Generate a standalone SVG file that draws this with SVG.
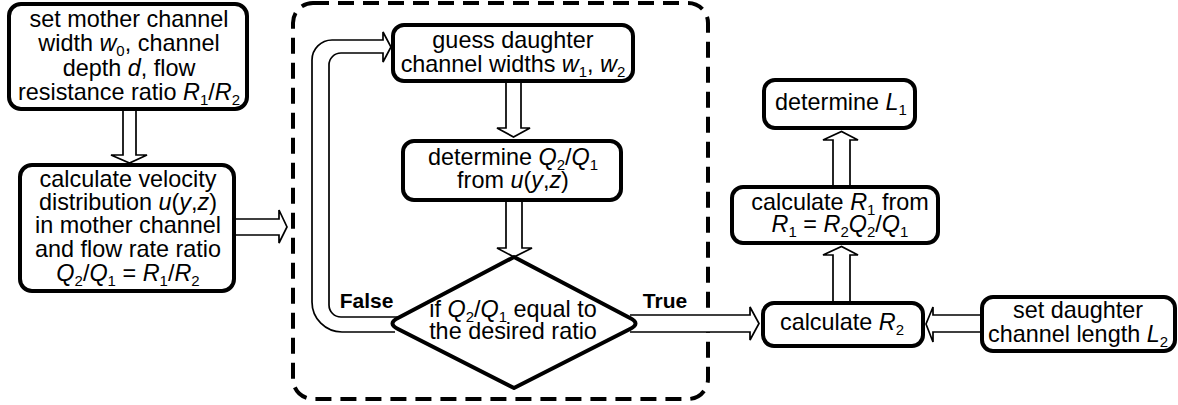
<svg xmlns="http://www.w3.org/2000/svg" width="1178" height="405" viewBox="0 0 1178 405">
<style>
.box{fill:#fff;stroke:#000;stroke-width:4}
.arr{fill:#fff;stroke:#000;stroke-width:1.7;stroke-linejoin:miter}
.t{font-family:"Liberation Sans",Arial,sans-serif;font-size:23.4px;text-anchor:middle;fill:#000}
.lb{font-family:"Liberation Sans",Arial,sans-serif;font-size:21px;font-weight:bold;text-anchor:middle;fill:#000}
.i{font-style:italic}
.s{font-size:15px;baseline-shift:-5px}
</style>
<rect id="loop-frame" x="293" y="3" width="415" height="396" rx="20" fill="none" stroke="#000" stroke-width="4" stroke-dasharray="16 9"/>
<g id="connectors">
<path class="arr" d="M123,111 V155 H111 L129.5,163 L147,155 H136 V111"/>
<path class="arr" d="M235,219 H279 V210 L287,227 L279,243 V235 H235"/>
<path class="arr" d="M506,83 V128 H497 L513.5,137 L530,128 H521 V83"/>
<path class="arr" d="M506,202 V248 H497 L514,257 L532,248 H522 V202"/>
<path class="arr" d="M395,332 H342 A30 30 0 0 1 312,302 V60 A20 20 0 0 1 332,40 H383 V32 L391,47 L383,62 V53 H341 A12 12 0 0 0 329,65 V305 A12 12 0 0 0 341,317 H398"/>
<path class="arr" d="M630,315 H750 V307 L759,323.5 L750,340 V332 H630"/>
<path class="arr" d="M980,315 H933 V307 L926,324 L933,342 V332 H980"/>
<path class="arr" d="M833,303 V255 H823 L841.5,246.5 L858,255 H850 V303"/>
<path class="arr" d="M833,186 V140 H823 L841.5,131.5 L858,140 H850 V186"/>
</g>
<g id="n1">
<rect class="box" x="9" y="4" width="238" height="105" rx="12"/>
<text class="t" x="129" y="27">set mother channel</text>
<text class="t" x="129" y="51">width <tspan class="i">w</tspan><tspan class="s">0</tspan>, channel</text>
<text class="t" x="129" y="75.5">depth <tspan class="i">d</tspan>, flow</text>
<text class="t" x="129" y="100">resistance ratio <tspan class="i">R</tspan><tspan class="s">1</tspan>/<tspan class="i">R</tspan><tspan class="s">2</tspan></text>
</g>
<g id="n2">
<rect class="box" x="20" y="165" width="214" height="126" rx="12"/>
<text class="t" x="128" y="187">calculate velocity</text>
<text class="t" x="128" y="210">distribution <tspan class="i">u</tspan>(<tspan class="i">y</tspan>,<tspan class="i">z</tspan>)</text>
<text class="t" x="128" y="233">in mother channel</text>
<text class="t" x="128" y="257">and flow rate ratio</text>
<text class="t" x="128" y="281"><tspan class="i">Q</tspan><tspan class="s">2</tspan>/<tspan class="i">Q</tspan><tspan class="s">1</tspan> = <tspan class="i">R</tspan><tspan class="s">1</tspan>/<tspan class="i">R</tspan><tspan class="s">2</tspan></text>
</g>
<g id="n3">
<rect class="box" x="393" y="25" width="240" height="56" rx="11"/>
<text class="t" x="513" y="48">guess daughter</text>
<text class="t" x="513" y="72">channel widths <tspan class="i">w</tspan><tspan class="s">1</tspan>, <tspan class="i">w</tspan><tspan class="s">2</tspan></text>
</g>
<g id="n4">
<rect class="box" x="403" y="141" width="218" height="59" rx="11"/>
<text class="t" x="513" y="165">determine <tspan class="i">Q</tspan><tspan class="s">2</tspan>/<tspan class="i">Q</tspan><tspan class="s">1</tspan></text>
<text class="t" x="513" y="188">from <tspan class="i">u</tspan>(<tspan class="i">y</tspan>,<tspan class="i">z</tspan>)</text>
</g>
<g id="n5">
<path d="M514,257 L630,318 Q641,323.5 630,329 L514,388 L398,329 Q387,323.5 398,318 Z" fill="#fff" stroke="#000" stroke-width="4" stroke-linejoin="round"/>
<text class="t" x="513" y="317">if <tspan class="i">Q</tspan><tspan class="s">2</tspan>/<tspan class="i">Q</tspan><tspan class="s">1</tspan> equal to</text>
<text class="t" x="513" y="339">the desired ratio</text>
</g>
<g id="labels">
<text class="lb" x="366.5" y="308">False</text>
<text class="lb" x="665" y="308">True</text>
</g>
<g id="n6">
<rect class="box" x="763" y="303" width="160" height="43" rx="11"/>
<text class="t" x="842" y="330">calculate <tspan class="i">R</tspan><tspan class="s">2</tspan></text>
</g>
<g id="n7">
<rect class="box" x="732" y="187" width="206" height="56" rx="11"/>
<text class="t" x="840" y="210">calculate <tspan class="i">R</tspan><tspan class="s">1</tspan> from</text>
<text class="t" x="840" y="231.5"><tspan class="i">R</tspan><tspan class="s">1</tspan> = <tspan class="i">R</tspan><tspan class="s">2</tspan><tspan class="i">Q</tspan><tspan class="s">2</tspan>/<tspan class="i">Q</tspan><tspan class="s">1</tspan></text>
</g>
<g id="n8">
<rect class="box" x="764" y="80" width="151" height="48" rx="11"/>
<text class="t" x="841" y="110">determine <tspan class="i">L</tspan><tspan class="s">1</tspan></text>
</g>
<g id="n9">
<rect class="box" x="982" y="297" width="193" height="54" rx="11"/>
<text class="t" x="1078" y="318">set daughter</text>
<text class="t" x="1078" y="341.5">channel length <tspan class="i">L</tspan><tspan class="s">2</tspan></text>
</g>
</svg>
